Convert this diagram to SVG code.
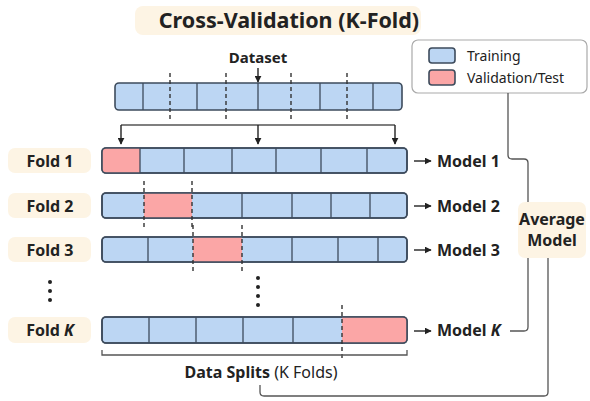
<svg xmlns="http://www.w3.org/2000/svg" width="590" height="401" viewBox="0 0 590 401">
<defs>
<marker id="ah" viewBox="0 0 10 10" refX="9" refY="5" markerWidth="7" markerHeight="7" orient="auto-start-reverse" markerUnits="userSpaceOnUse"><path d="M0,0 L10,5 L0,10 z" fill="#222"/></marker>
<style>
.bar{fill:#bcd6f3;stroke:#3d4b5c;stroke-width:1.6}
.red{fill:#fba6a6}
.div{stroke:#3d4b5c;stroke-width:1.3}
.dash{stroke:#333;stroke-width:1.4;stroke-dasharray:4 3}
.lbl{fill:#fdf4e4}
.t{font-family:"Noto Sans","Open Sans",sans-serif;fill:#222}
.b{font-weight:bold}
.ln{fill:none;stroke:#555;stroke-width:1.3}
.arr{stroke:#222;stroke-width:1.4;marker-end:url(#ah)}
</style>
</defs>
<rect width="590" height="401" fill="#fff"/>

<g id="title">
<rect x="135" y="6" width="286" height="29" rx="8" class="lbl"/>
<text x="289" y="28" class="t b" font-size="21.5" text-anchor="middle">Cross-Validation (K-Fold)</text>
</g>

<g id="legend">
<rect x="412" y="40" width="175" height="53" rx="6" fill="#fff" stroke="#aaa" stroke-width="1.2"/>
<rect x="429" y="48" width="26" height="15" rx="3" class="bar"/>
<rect x="429" y="70" width="26" height="15" rx="3" class="bar red"/>
<text x="467" y="61" class="t" font-size="14">Training</text>
<text x="467" y="83" class="t" font-size="14">Validation/Test</text>
</g>

<g id="dataset">
<text x="258" y="63" class="t b" font-size="15" text-anchor="middle">Dataset</text>
<rect x="115" y="83" width="287" height="27" rx="4" class="bar"/>
<path class="div" d="M143,83V110M197,83V110M258,83V110M320,83V110M373,83V110"/>
<path class="dash" d="M170,73V120M226,73V120M291,73V120M347,73V120"/>
</g>

<g id="fold1">
<rect x="8" y="148" width="83" height="25" rx="7" class="lbl"/>
<text x="50" y="166.5" class="t b" font-size="16" text-anchor="middle">Fold 1</text>
<rect x="102" y="148" width="305" height="25" rx="4" class="bar"/>
<path d="M106,148H140V173H106A4,4 0 0 1 102,169V152A4,4 0 0 1 106,148z" class="red"/>
<rect x="102" y="148" width="305" height="25" rx="4" fill="none" stroke="#3d4b5c" stroke-width="1.6"/>
<path class="div" d="M140,148V173M184,148V173M232,148V173M276,148V173M321,148V173M367,148V173"/>
<text x="437" y="166.5" class="t b" font-size="16">Model 1</text>
</g>

<g id="fold2">
<rect x="8" y="193" width="83" height="25" rx="7" class="lbl"/>
<text x="50" y="211.5" class="t b" font-size="16" text-anchor="middle">Fold 2</text>
<rect x="102" y="193" width="305" height="25" rx="4" class="bar"/>
<rect x="144" y="193" width="48" height="25" class="red"/>
<rect x="102" y="193" width="305" height="25" rx="4" fill="none" stroke="#3d4b5c" stroke-width="1.6"/>
<path class="div" d="M242,193V218M292,193V218M331,193V218M370,193V218"/>
<path class="dash" d="M144,181V230M192,181V230"/>
<text x="437" y="211.5" class="t b" font-size="16">Model 2</text>
</g>

<g id="fold3">
<rect x="8" y="237" width="83" height="25" rx="7" class="lbl"/>
<text x="50" y="255.5" class="t b" font-size="16" text-anchor="middle">Fold 3</text>
<rect x="102" y="237" width="305" height="25" rx="4" class="bar"/>
<rect x="193" y="237" width="49" height="25" class="red"/>
<rect x="102" y="237" width="305" height="25" rx="4" fill="none" stroke="#3d4b5c" stroke-width="1.6"/>
<path class="div" d="M148,237V262M292,237V262M338,237V262M378,237V262"/>
<path class="dash" d="M193,225V273M242,225V273"/>
<text x="437" y="255.5" class="t b" font-size="16">Model 3</text>
</g>

<g id="dots" fill="#222">
<circle cx="50" cy="282" r="2"/><circle cx="50" cy="291" r="2"/><circle cx="50" cy="300" r="2"/>
<circle cx="258" cy="278" r="2"/><circle cx="258" cy="287" r="2"/><circle cx="258" cy="296" r="2"/><circle cx="258" cy="305" r="2"/>
</g>

<g id="foldK">
<rect x="8" y="317" width="83" height="26" rx="7" class="lbl"/>
<text x="50" y="336" class="t b" font-size="16" text-anchor="middle">Fold <tspan font-style="italic">K</tspan></text>
<rect x="102" y="317" width="305" height="26" rx="4" class="bar"/>
<path d="M342,317H403A4,4 0 0 1 407,321V339A4,4 0 0 1 403,343H342z" class="red"/>
<rect x="102" y="317" width="305" height="26" rx="4" fill="none" stroke="#3d4b5c" stroke-width="1.6"/>
<path class="div" d="M149,317V343M196,317V343M243,317V343M293,317V343"/>
<path class="dash" d="M342,305V361"/>
<text x="437" y="336" class="t b" font-size="16">Model <tspan font-style="italic">K</tspan></text>
</g>

<g id="average">
<rect x="518" y="202" width="68" height="56" rx="7" class="lbl"/>
<text x="552" y="225" class="t b" font-size="16" text-anchor="middle">Average</text>
<text x="552" y="246" class="t b" font-size="16" text-anchor="middle">Model</text>
</g>

<g id="splits">
<text x="261" y="378" class="t" font-size="16" text-anchor="middle"><tspan font-weight="bold">Data Splits</tspan> (K Folds)</text>
</g>

<g id="connectors">
<line x1="258" y1="68" x2="258" y2="82" class="arr"/>
<path class="ln" d="M121,125H395" stroke="#222"/>
<line x1="121" y1="125" x2="121" y2="144" class="arr"/>
<line x1="258" y1="125" x2="258" y2="144" class="arr"/>
<line x1="395" y1="125" x2="395" y2="144" class="arr"/>
<line x1="414" y1="161" x2="431" y2="161" class="arr"/>
<line x1="414" y1="206" x2="431" y2="206" class="arr"/>
<line x1="414" y1="250" x2="431" y2="250" class="arr"/>
<line x1="414" y1="331" x2="431" y2="331" class="arr"/>
<path class="ln" d="M102,350V355H407V350"/>
<path class="ln" d="M508,93V155Q508,159 512,159H524Q528,159 528,163V202"/>
<path class="ln" d="M510,331H524Q528,331 528,327V258"/>
<path class="ln" d="M260,385V392Q260,396 264,396H544Q548,396 548,392V258"/>
</g>
</svg>
